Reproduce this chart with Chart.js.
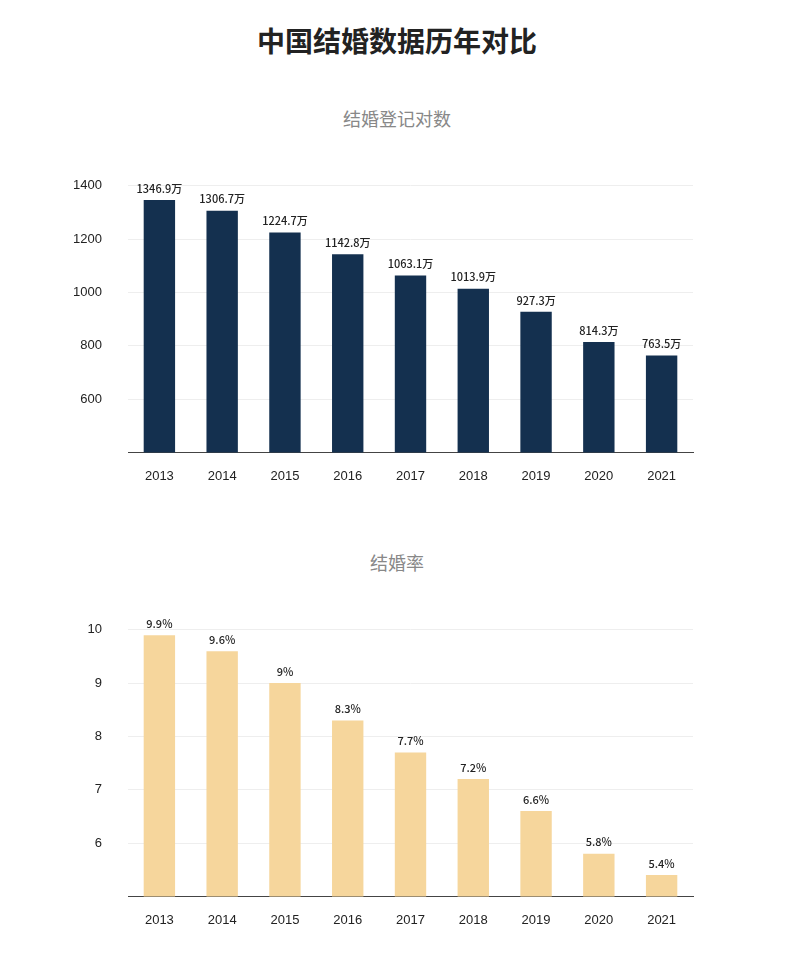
<!DOCTYPE html>
<html><head><meta charset="utf-8">
<script src="https://cdn.jsdelivr.net/npm/chart.js@4"></script>
<style>
body{margin:0;background:#fff;width:794px;height:960px;position:relative;font-family:"Noto Sans CJK SC","Noto Sans",sans-serif;}
.t{position:absolute;left:0;width:794px;text-align:center;}
.box{position:absolute;left:40px;width:680px;height:340px;}
</style></head><body>
<div class="t" style="top:20px;font-size:28px;font-weight:bold;color:#222;">中国结婚数据历年对比</div>
<div class="t" style="top:105px;font-size:18px;color:#888;">结婚登记对数</div>
<div class="box" style="top:152px;"><canvas id="c1"></canvas></div>
<div class="t" style="top:549px;font-size:18px;color:#888;">结婚率</div>
<div class="box" style="top:596px;"><canvas id="c2"></canvas></div>
<script>
const years=["2013","2014","2015","2016","2017","2018","2019","2020","2021"];
const couples=[1346.9,1306.7,1224.7,1142.8,1063.1,1013.9,927.3,814.3,763.5];
const coupleLabels=["1346.9万","1306.7万","1224.7万","1142.8万","1063.1万","1013.9万","927.3万","814.3万","763.5万"];
const rates=[9.9,9.6,9,8.3,7.7,7.2,6.6,5.8,5.4];
const rateLabels=["9.9%","9.6%","9%","8.3%","7.7%","7.2%","6.6%","5.8%","5.4%"];
const labelPlugin={id:'lbl',afterDatasetsDraw(ch){const {ctx}=ch;const meta=ch.getDatasetMeta(0);const labs=ch.options.plugins.lbl.labels;
ctx.save();ctx.font='500 11px "Noto Sans CJK SC","Noto Sans",sans-serif';ctx.fillStyle='#222';ctx.textAlign='center';ctx.textBaseline='bottom';
meta.data.forEach((b,i)=>ctx.fillText(labs[i],b.x,b.y-6));ctx.restore();}};
function make(id,data,labs,color,min,max,step){
new Chart(document.getElementById(id),{type:'bar',data:{labels:years,datasets:[{data,backgroundColor:color,barPercentage:0.5,categoryPercentage:1}]},
plugins:[labelPlugin],
options:{responsive:true,maintainAspectRatio:false,animation:false,layout:{padding:{top:28,right:27}},
plugins:{legend:{display:false},tooltip:{enabled:false},lbl:{labels:labs}},
scales:{x:{grid:{display:false},border:{color:'#444',width:1},ticks:{color:'#222',font:{size:13},padding:8}},
y:{min,max,afterFit:s=>{s.width=88;},ticks:{stepSize:step,color:'#222',font:{size:13},padding:26,callback:v=>v===min?'':v},grid:{color:'#eee',drawTicks:false},border:{display:false}}}}});}
make('c1',couples,coupleLabels,'#14304f',400,1400,200);
make('c2',rates,rateLabels,'#f6d69c',5,10,1);
</script></body></html>
